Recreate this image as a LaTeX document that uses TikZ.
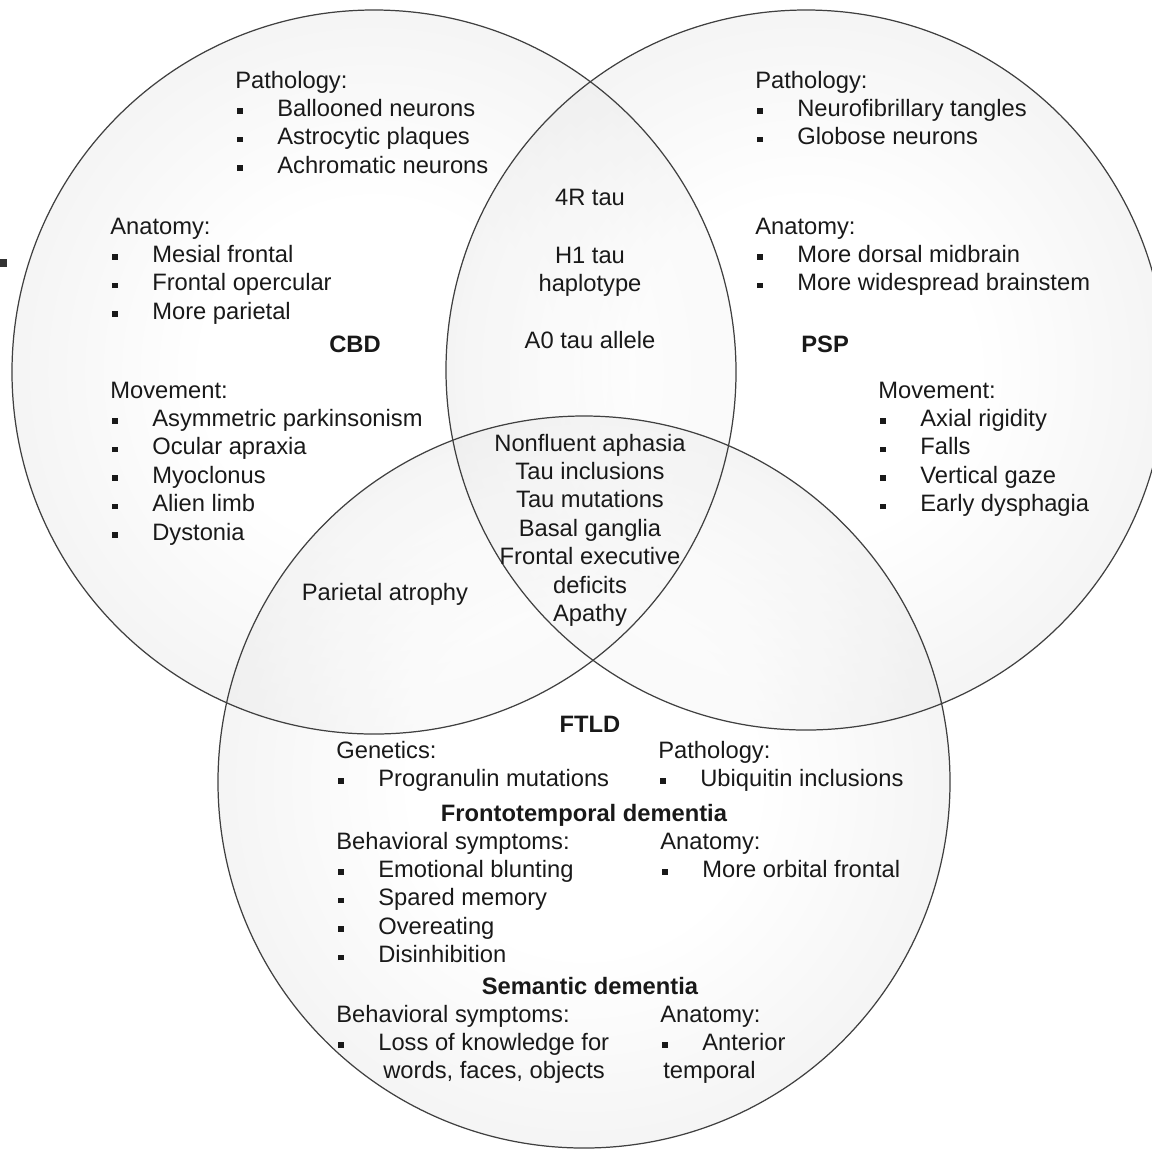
\documentclass[tikz,border=0pt]{standalone}
\usepackage{fontspec}
\setmainfont{Liberation Sans}

% white in the middle, grey at the rim
\colorlet{rimgrey}{black!50}
\colorlet{midgrey}{black!16}
\pgfdeclareradialshading{vennglow}{\pgfpoint{0bp}{0bp}}{color(0bp)=(white); color(12bp)=(white); color(38bp)=(midgrey); color(50bp)=(rimgrey)}
% square list mark, fixed width
\newcommand{\blt}{\makebox[8.4mm][l]{\hspace*{0.4mm}\rule[0.55mm]{1.1mm}{1.1mm}}}

\begin{document}
\begin{tikzpicture}[x=0.2mm,y=-0.2mm,line cap=round]
	\tikzset{
		glow/.style={shading=vennglow,fill opacity=0.5},
		rim/.style={draw=black!75,line width=0.7pt},
		txt/.style={anchor=base west,inner sep=0pt,text=black!90,font=\fontsize{13.5pt}{16.2pt}\selectfont},
		ctxt/.style={txt,anchor=base},
		ttl/.style={ctxt,font=\fontsize{13.5pt}{16.2pt}\selectfont\bfseries}
	}
	\useasboundingbox (0,0) rectangle (1152,1151);
	%% circles
	\coordinate (cbd)  at (374,372);
	\coordinate (psp)  at (806,370);
	\coordinate (ftld) at (584,782);
	\begin{scope}
		\clip (0,0) rectangle (1152,1151);
		\shade[glow] (cbd)  circle[radius=72.4mm];
		\shade[glow] (psp)  circle[radius=72.0mm];
		\shade[glow] (ftld) circle[radius=73.2mm];
		\draw[rim] (cbd)  circle[radius=72.4mm];
		\draw[rim] (psp)  circle[radius=72.0mm];
		\draw[rim] (ftld) circle[radius=73.2mm];
	\end{scope}
	\fill[black!80] (0,259) rectangle (7,267);
	%% CBD
	\node[txt] (cbdpath) at (235,88)  {\begin{tabular}[t]{@{}l@{}}Pathology:\\\blt Ballooned neurons\\\blt Astrocytic plaques\\\blt Achromatic neurons\end{tabular}};
	\node[txt] (cbdanat) at (110,234) {\begin{tabular}[t]{@{}l@{}}Anatomy:\\\blt Mesial frontal\\\blt Frontal opercular\\\blt More parietal\end{tabular}};
	\node[ttl] (cbdname) at (355,352) {CBD};
	\node[txt] (cbdmove) at (110,398) {\begin{tabular}[t]{@{}l@{}}Movement:\\\blt Asymmetric parkinsonism\\\blt Ocular apraxia\\\blt Myoclonus\\\blt Alien limb\\\blt Dystonia\end{tabular}};
	%% CBD and PSP
	\node[ctxt] (tau4r)  at (590,205) {4R tau};
	\node[ctxt] (tauh1)  at (590,263) {\begin{tabular}[t]{@{}c@{}}H1 tau\\haplotype\end{tabular}};
	\node[ctxt] (taua0)  at (590,348) {A0 tau allele};
	%% all three
	\node[ctxt] (shared) at (590,451) {\begin{tabular}[t]{@{}c@{}}Nonfluent aphasia\\Tau inclusions\\Tau mutations\\Basal ganglia\\Frontal executive\\deficits\\Apathy\end{tabular}};
	%% CBD and FTLD
	\node[ctxt] (parietal) at (385,600) {Parietal atrophy};
	%% PSP
	\node[txt] (psppath) at (755,88)  {\begin{tabular}[t]{@{}l@{}}Pathology:\\\blt Neurofibrillary tangles\\\blt Globose neurons\end{tabular}};
	\node[txt] (pspanat) at (755,234) {\begin{tabular}[t]{@{}l@{}}Anatomy:\\\blt More dorsal midbrain\\\blt More widespread brainstem\end{tabular}};
	\node[ttl,anchor=base west] (pspname) at (801,352) {PSP};
	\node[txt] (pspmove) at (878,398) {\begin{tabular}[t]{@{}l@{}}Movement:\\\blt Axial rigidity\\\blt Falls\\\blt Vertical gaze\\\blt Early dysphagia\end{tabular}};
	%% FTLD
	\node[ttl] (ftldname) at (590,732) {FTLD};
	\node[txt] (ftldgen)  at (336,758) {\begin{tabular}[t]{@{}l@{}}Genetics:\\\blt Progranulin mutations\end{tabular}};
	\node[txt] (ftldpath) at (658,758) {\begin{tabular}[t]{@{}l@{}}Pathology:\\\blt Ubiquitin inclusions\end{tabular}};
	\node[ttl] (ftdname)  at (584,821) {Frontotemporal dementia};
	\node[txt] (ftdbeh)   at (336,849) {\begin{tabular}[t]{@{}l@{}}Behavioral symptoms:\\\blt Emotional blunting\\\blt Spared memory\\\blt Overeating\\\blt Disinhibition\end{tabular}};
	\node[txt] (ftdanat)  at (660,849) {\begin{tabular}[t]{@{}l@{}}Anatomy:\\\blt More orbital frontal\end{tabular}};
	\node[ttl] (sdname)   at (590,994) {Semantic dementia};
	\node[txt] (sdbeh)    at (336,1022) {\begin{tabular}[t]{@{}l@{}}Behavioral symptoms:\\\blt Loss of knowledge for\\\hspace*{9.4mm}words, faces, objects\end{tabular}};
	\node[txt] (sdanat)   at (660,1022) {\begin{tabular}[t]{@{}l@{}}Anatomy:\\\blt Anterior\\\hspace*{0.6mm}temporal\end{tabular}};
\end{tikzpicture}
\end{document}
